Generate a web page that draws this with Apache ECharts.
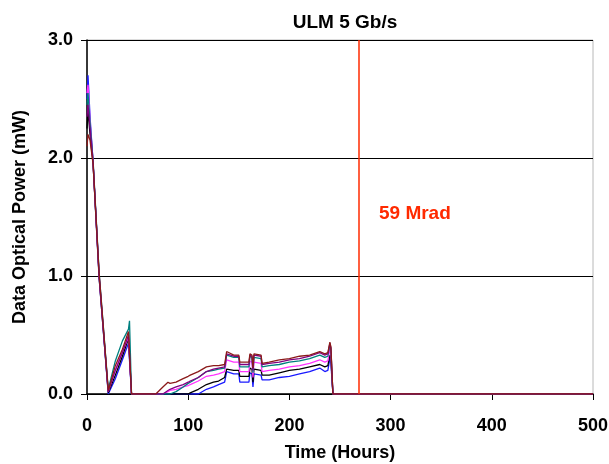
<!DOCTYPE html>
<html>
<head>
<meta charset="utf-8">
<script src="https://cdn.jsdelivr.net/npm/echarts@6/dist/echarts.min.js"></script>
<style>html,body{margin:0;padding:0;background:#fff;}#c{width:609px;height:464px;}</style>
</head>
<body>
<div id="c"></div>
<script>
var titleText = 'ULM 5 Gb/s';
var xName = 'Time (Hours)';
var yName = 'Data Optical Power (mW)';
var xTicks = [0, 100, 200, 300, 400, 500];
var yTicks = [0.0, 1.0, 2.0, 3.0];
var radHours = 269;
var radLabel = '59 Mrad';
var radLabelPos = [324, 1.53];

var hours = [0, 1, 3, 6, 12, 21, 28, 35, 41, 42, 44, 68, 75, 80, 82, 88, 95, 100, 102, 110, 118, 125, 130, 136, 137, 138, 145, 150, 151, 160, 161, 163, 164, 165, 172, 173, 180, 190, 200, 210, 220, 230, 235, 238, 240, 241, 243, 500];

var blue    = [2.50, 2.70, 2.35, 1.96, 0.99, 0.00, 0.13, 0.29, 0.43, 0.44, 0, 0, 0, 0, 0, 0, 0, 0, 0, 0, 0.04, 0.06, 0.08, 0.10, 0.10, 0.19, 0.17, 0.17, 0.10, 0.10, 0.18, 0.17, 0.06, 0.17, 0.16, 0.12, 0.12, 0.14, 0.15, 0.17, 0.19, 0.22, 0.19, 0.20, 0.30, 0.26, 0, 0];
var black   = [2.25, 2.40, 2.20, 1.95, 0.98, 0.01, 0.16, 0.32, 0.47, 0.48, 0, 0, 0, 0, 0, 0, 0, 0, 0.01, 0.04, 0.08, 0.10, 0.11, 0.14, 0.14, 0.21, 0.20, 0.20, 0.15, 0.15, 0.22, 0.21, 0.10, 0.21, 0.20, 0.16, 0.16, 0.18, 0.20, 0.21, 0.23, 0.25, 0.23, 0.24, 0.33, 0.30, 0, 0];
var magenta = [2.55, 2.62, 2.32, 1.96, 1.00, 0.02, 0.20, 0.36, 0.48, 0.49, 0, 0, 0, 0.02, 0.03, 0.04, 0.06, 0.07, 0.08, 0.11, 0.15, 0.16, 0.17, 0.19, 0.19, 0.29, 0.27, 0.27, 0.19, 0.19, 0.28, 0.27, 0.14, 0.27, 0.26, 0.19, 0.20, 0.21, 0.23, 0.24, 0.26, 0.29, 0.27, 0.28, 0.38, 0.34, 0, 0];
var teal    = [2.45, 2.55, 2.30, 1.98, 1.03, 0.04, 0.28, 0.45, 0.55, 0.62, 0, 0, 0, 0, 0, 0.02, 0.06, 0.09, 0.10, 0.14, 0.19, 0.20, 0.21, 0.22, 0.22, 0.33, 0.31, 0.31, 0.23, 0.23, 0.32, 0.31, 0.18, 0.31, 0.30, 0.23, 0.24, 0.25, 0.27, 0.28, 0.30, 0.33, 0.31, 0.32, 0.42, 0.38, 0, 0];
var purple  = [2.35, 2.45, 2.25, 1.97, 1.00, 0.02, 0.20, 0.35, 0.50, 0.50, 0, 0, 0, 0.03, 0.04, 0.06, 0.08, 0.10, 0.11, 0.14, 0.19, 0.21, 0.22, 0.23, 0.23, 0.34, 0.32, 0.32, 0.25, 0.25, 0.33, 0.32, 0.20, 0.33, 0.32, 0.25, 0.26, 0.27, 0.29, 0.30, 0.32, 0.35, 0.33, 0.34, 0.43, 0.39, 0, 0];
var maroon  = [2.10, 2.20, 2.15, 1.95, 1.02, 0.03, 0.24, 0.38, 0.53, 0.54, 0, 0, 0.06, 0.10, 0.09, 0.10, 0.13, 0.15, 0.16, 0.19, 0.23, 0.24, 0.24, 0.25, 0.25, 0.36, 0.33, 0.33, 0.27, 0.27, 0.34, 0.33, 0.22, 0.34, 0.33, 0.26, 0.27, 0.29, 0.30, 0.32, 0.33, 0.36, 0.34, 0.35, 0.44, 0.40, 0, 0];

var seriesDefs = [
  {name: 'Blue', values: blue, color: '#1a1aff'},
  {name: 'Black', values: black, color: '#000000'},
  {name: 'Magenta', values: magenta, color: '#ff33ff'},
  {name: 'Teal', values: teal, color: '#008080'},
  {name: 'Purple', values: purple, color: '#800080'},
  {name: 'Maroon', values: maroon, color: '#8b1a1a'}
];

function zip(xs, ys) { return xs.map(function (x, i) { return [x, ys[i]]; }); }

var series = seriesDefs.map(function (s) {
  return {
    name: s.name, type: 'line', data: zip(hours, s.values),
    showSymbol: false, symbol: 'none', animation: false,
    lineStyle: {color: s.color, width: 1.3}, itemStyle: {color: s.color}
  };
});
series.push({
  type: 'line', data: [], animation: false,
  markLine: {
    silent: true, symbol: 'none', animation: false,
    label: {show: false},
    lineStyle: {color: '#ff2a00', width: 1.5, type: 'solid'},
    data: [{xAxis: radHours}]
  },
  markPoint: {
    silent: true, animation: false,
    symbol: 'rect', symbolSize: 1, itemStyle: {color: 'rgba(0,0,0,0)'},
    label: {show: true, position: 'inside', formatter: radLabel, color: '#ff2a00',
            fontWeight: 'bold', fontSize: 19, fontFamily: 'Liberation Sans, Arial, sans-serif'},
    data: [{coord: radLabelPos}]
  }
});

var font = 'Liberation Sans, Arial, sans-serif';
var chart = echarts.init(document.getElementById('c'), null, {renderer: 'canvas'});
chart.setOption({
  backgroundColor: '#ffffff',
  animation: false,
  title: {
    text: titleText, left: 340, top: 8, textAlign: 'center',
    textStyle: {fontFamily: font, fontWeight: 'bold', fontSize: 19, color: '#000'}
  },
  grid: {left: 87, right: 16, top: 40, bottom: 70, show: true, borderColor: '#b8b8b8', borderWidth: 1,
         containLabel: false, outerBoundsMode: 'none'},
  xAxis: {
    type: 'value', min: xTicks[0], max: xTicks[xTicks.length - 1], interval: xTicks[1] - xTicks[0],
    name: xName, nameLocation: 'middle', nameGap: 50,
    nameTextStyle: {fontFamily: font, fontWeight: 'bold', fontSize: 18, color: '#000'},
    axisLine: {show: true, onZero: false, lineStyle: {color: '#000', width: 1.5}},
    axisTick: {show: true, length: 6, lineStyle: {color: '#000'}},
    axisLabel: {fontFamily: font, fontWeight: 'bold', fontSize: 18, color: '#000', margin: 23},
    splitLine: {show: false}
  },
  yAxis: {
    type: 'value', min: yTicks[0], max: yTicks[yTicks.length - 1], interval: yTicks[1] - yTicks[0],
    name: yName, nameLocation: 'middle', nameGap: 58, nameRotate: 90,
    nameTextStyle: {fontFamily: font, fontWeight: 'bold', fontSize: 18, color: '#000'},
    axisLine: {show: true, lineStyle: {color: '#000', width: 1.5}},
    axisTick: {show: true, length: 6, lineStyle: {color: '#000'}},
    axisLabel: {fontFamily: font, fontWeight: 'bold', fontSize: 18, color: '#000', margin: 14,
                formatter: function (v) { return v.toFixed(1); }},
    splitLine: {show: true, lineStyle: {color: '#000', width: 1.2}}
  },
  series: series
});
</script>
</body>
</html>
